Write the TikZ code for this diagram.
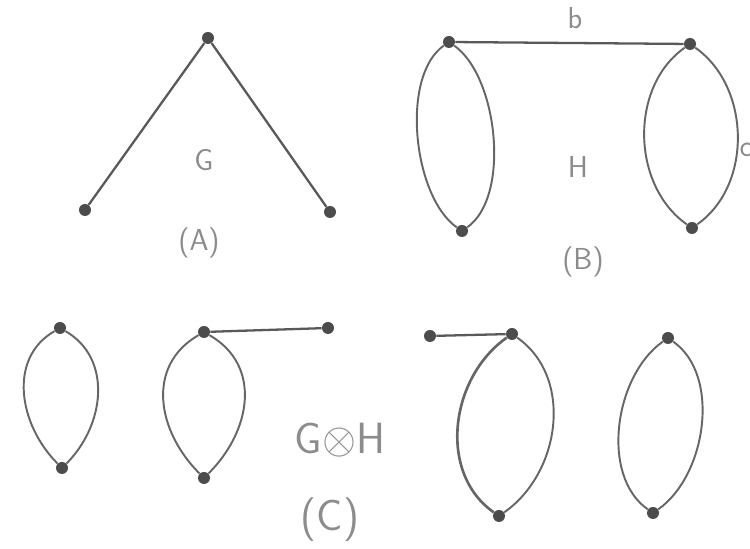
\documentclass[tikz,border=0pt]{standalone}
\usepackage{amsmath}
\usepackage{amssymb}
\usepackage{tikz}
\usetikzlibrary{positioning}

\begin{document}
\begin{tikzpicture}[
        vtx/.style={circle, fill=black!70, inner sep=0pt, minimum size=0.24cm},
        edge/.style={draw=black!65, line width=1.3pt},
        loopedge/.style={draw=black!60, line width=1.1pt},
        lbl/.style={text=black!45, font=\sffamily\LARGE},
        biglbl/.style={text=black!45, font=\sffamily\Huge}
    ]
            \useasboundingbox (0,0) rectangle (15,10.98);
            \node[vtx] (gt) at (4.16,10.22) {};
            \node[vtx] (gl) at (1.70,6.78) {};
            \node[vtx] (gr) at (6.60,6.74) {};
            \draw[edge] (gt) -- (gl);
            \draw[edge] (gt) -- (gr);
            \node[lbl] (gname) at (4.08,7.78) {G};
            \node[lbl] (alabel) at (3.98,6.12) {(A)};

            \node[vtx] (ha) at (8.98,10.14) {};
            \node[vtx] (hb) at (13.80,10.10) {};
            \node[vtx] (hc) at (9.24,6.36) {};
            \node[vtx] (hd) at (13.84,6.42) {};
            \draw[edge] (ha) -- (hb);
            \draw[loopedge] (ha) to[out=215, in=145, looseness=0.75] (hc);
            \draw[loopedge] (ha) to[out=-35, in=35, looseness=0.75] (hc);
            \draw[loopedge] (hb) to[out=215, in=145, looseness=0.98] (hd);
            \draw[loopedge] (hb) to[out=-35, in=35, looseness=0.98] (hd);
            \node[lbl] (bname) at (11.50,10.62) {b};
            \node[lbl] (cname) at (14.92,7.98) {c};
            \node[lbl] (hname) at (11.56,7.64) {H};
            \node[lbl] (blabel) at (11.66,5.74) {(B)};

            \node[vtx] (p1) at (1.20,4.42) {};
            \node[vtx] (q1) at (1.24,1.62) {};
            \draw[loopedge] (p1) to[out=210, in=135, looseness=1.05] (q1);
            \draw[loopedge] (p1) to[out=-30, in=45, looseness=1.05] (q1);
            \node[vtx] (p2) at (4.08,4.34) {};
            \node[vtx] (q2) at (4.08,1.42) {};
            \node[vtx] (r2) at (6.56,4.42) {};
            \draw[loopedge] (p2) to[out=210, in=135, looseness=1.12] (q2);
            \draw[loopedge] (p2) to[out=-30, in=45, looseness=1.12] (q2);
            \draw[edge] (p2) -- (r2);
            \node[biglbl] (prod) at (6.80,2.18) {G$\otimes$H};
            \node[biglbl] (clabel) at (6.60,0.58) {(C)};

            \node[vtx] (p3) at (10.24,4.30) {};
            \node[vtx] (q3) at (9.98,0.66) {};
            \node[vtx] (r3) at (8.60,4.26) {};
            \draw[edge] (r3) -- (p3);
            \draw[loopedge, line width=1.5pt] (p3) to[out=215, in=145, looseness=1.01] (q3);
            \draw[loopedge] (p3) to[out=-35, in=35, looseness=1.01] (q3);
            \node[vtx] (p4) at (13.36,4.22) {};
            \node[vtx] (q4) at (13.06,0.72) {};
            \draw[loopedge] (p4) to[out=215, in=145, looseness=0.89] (q4);
            \draw[loopedge] (p4) to[out=-35, in=35, looseness=0.89] (q4);
        \end{tikzpicture}
\end{document}
